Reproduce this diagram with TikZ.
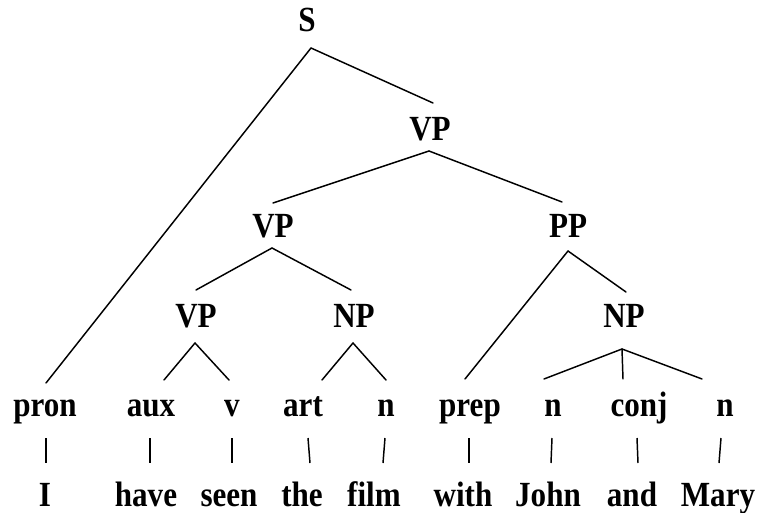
\documentclass[tikz,border=0pt]{standalone}
\usepackage{fontspec}
\setmainfont{Liberation Serif}
\newfontfamily\treefont[FakeStretch=0.88]{Liberation Serif}
\begin{document}
\begin{tikzpicture}[x=0.75pt,y=-0.75pt,
  lab/.style={inner sep=0pt, anchor=base, font=\treefont\bfseries\fontsize{26.5}{30}\selectfont},
  edge/.style={line width=1.1pt, line cap=round},
  bar/.style={line width=1.1pt}]
\useasboundingbox (0,0) rectangle (757,513);
% phrase nodes
\node[lab] (S)   at (307,32)  {S};
\node[lab] (VP1) at (430,141) {VP};
\node[lab] (VP2) at (273,238) {VP};
\node[lab] (PP)  at (568,238) {PP};
\node[lab] (VP3) at (196,328) {VP};
\node[lab] (NP1) at (354,328) {NP};
\node[lab] (NP2) at (624,328) {NP};
% terminals
\node[lab] (t1) at (45,416)  {pron};
\node[lab] (t2) at (151,416) {aux};
\node[lab] (t3) at (232,416) {v};
\node[lab] (t4) at (303,416) {art};
\node[lab] (t5) at (386,416) {n};
\node[lab] (t6) at (470,416) {prep};
\node[lab] (t7) at (553,416) {n};
\node[lab] (t8) at (639,416) {conj};
\node[lab] (t9) at (725,416) {n};
% words
\node[lab] (w1) at (45,506)  {I};
\node[lab] (w2) at (146,506) {have};
\node[lab] (w3) at (229,506) {seen};
\node[lab] (w4) at (302,506) {the};
\node[lab] (w5) at (374,506) {film};
\node[lab] (w6) at (463,506) {with};
\node[lab] (w7) at (548,506) {John};
\node[lab] (w8) at (632,506) {and};
\node[lab] (w9) at (718,506) {Mary};
% apex (bottom) coordinates
\coordinate (S-b)   at (311,48);
\coordinate (VP1-b) at (429,151);
\coordinate (VP2-b) at (272,248);
\coordinate (PP-b)  at (568,251);
\coordinate (VP3-b) at (195,343);
\coordinate (NP1-b) at (353,343);
\coordinate (NP2-b) at (622,349);
% top coordinates
\coordinate (VP1-t) at (433,103);
\coordinate (VP2-t) at (273,203);
\coordinate (PP-t)  at (562,202);
\coordinate (VP3-t) at (196,290);
\coordinate (NP1-t) at (351,290);
\coordinate (NP2-t) at (626,292);
\coordinate (t1-t) at (46,383);
\coordinate (t2-t) at (164,380);
\coordinate (t3-t) at (229,380);
\coordinate (t4-t) at (322,380);
\coordinate (t5-t) at (386,380);
\coordinate (t6-t) at (465,379);
\coordinate (t7-t) at (544,379);
\coordinate (t8-t) at (623,379);
\coordinate (t9-t) at (702,379);
% bar coordinates
\coordinate (t1-b) at (46,438);  \coordinate (w1-t) at (46,463);
\coordinate (t2-b) at (150,438); \coordinate (w2-t) at (150,463);
\coordinate (t3-b) at (232,438); \coordinate (w3-t) at (232,463);
\coordinate (t4-b) at (308,438); \coordinate (w4-t) at (310,463);
\coordinate (t5-b) at (385,438); \coordinate (w5-t) at (383,463);
\coordinate (t6-b) at (469,438); \coordinate (w6-t) at (469,463);
\coordinate (t7-b) at (552,438); \coordinate (w7-t) at (551,463);
\coordinate (t8-b) at (637,438); \coordinate (w8-t) at (638,463);
\coordinate (t9-b) at (721,438); \coordinate (w9-t) at (719,463);
% tree edges
\draw[edge] (S-b) -- (VP1-t);
\draw[edge] (S-b) -- (t1-t);
\draw[edge] (VP1-b) -- (VP2-t);
\draw[edge] (VP1-b) -- (PP-t);
\draw[edge] (VP2-b) -- (VP3-t);
\draw[edge] (VP2-b) -- (NP1-t);
\draw[edge] (PP-b) -- (t6-t);
\draw[edge] (PP-b) -- (NP2-t);
\draw[edge] (VP3-b) -- (t2-t);
\draw[edge] (VP3-b) -- (t3-t);
\draw[edge] (NP1-b) -- (t4-t);
\draw[edge] (NP1-b) -- (t5-t);
\draw[edge] (NP2-b) -- (t7-t);
\draw[edge] (NP2-b) -- (t8-t);
\draw[edge] (NP2-b) -- (t9-t);
% bars
\foreach \i in {1,...,9} \draw[bar] (t\i-b) -- (w\i-t);
\end{tikzpicture}
\end{document}
